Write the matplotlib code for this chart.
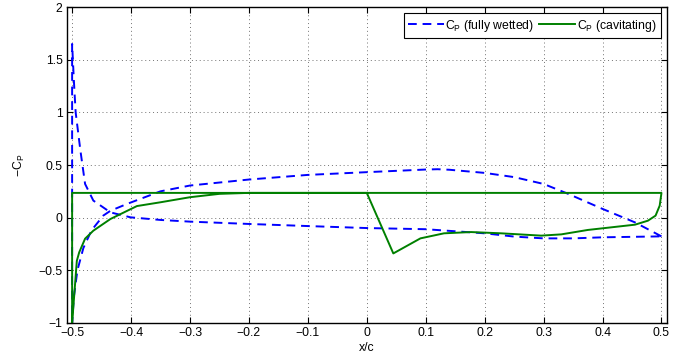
import matplotlib
matplotlib.use("Agg")
import matplotlib.pyplot as plt

plt.rcParams['font.family'] = ['Liberation Sans', 'DejaVu Sans']
plt.rcParams['font.size'] = 8.8

# Fully wetted -Cp: loop from trailing edge along pressure side to LE, then suction-peak side back to TE
wet_x = [0.5, 0.455, 0.4, 0.34, 0.3, 0.25, 0.2, 0.14, 0.12, 0.1, 0.0, -0.1, -0.2, -0.3, -0.35,
         -0.407, -0.435, -0.447, -0.467, -0.481, -0.491, -0.497, -0.5,
         -0.5, -0.497, -0.494, -0.486, -0.478, -0.464, -0.435, -0.401, -0.35, -0.3,
         -0.2, -0.1, 0.0, 0.1, 0.2, 0.25, 0.3, 0.35, 0.4, 0.5]
wet_y = [-0.178, -0.045, 0.083, 0.23, 0.32, 0.385, 0.425, 0.455, 0.46, 0.457, 0.432, 0.406, 0.362,
         0.305, 0.25, 0.13, 0.065, 0.02, -0.12, -0.29, -0.5, -0.75, -1.0,
         1.65, 1.3, 1.0, 0.64, 0.32, 0.162, 0.05, 0.003, -0.022, -0.038,
         -0.06, -0.08, -0.099, -0.11, -0.149, -0.18, -0.197, -0.197, -0.187, -0.178]

# Cavitating -Cp
cav_x = [-0.5, -0.5, 0.5, 0.497, 0.49, 0.477, 0.455, 0.375, 0.33, 0.296, 0.228, 0.177, 0.131,
         0.091, 0.045, 0.0, -0.2, -0.25, -0.3, -0.35, -0.39, -0.435, -0.464, -0.478, -0.488, -0.492, -0.5]
cav_y = [-1.0, 0.235, 0.235, 0.114, 0.019, -0.029, -0.067, -0.117, -0.159, -0.171, -0.149, -0.137,
         -0.149, -0.197, -0.34, 0.235, 0.235, 0.226, 0.194, 0.146, 0.11, -0.013, -0.124, -0.2, -0.33, -0.41, -1.0]

xticks = [-0.5, -0.4, -0.3, -0.2, -0.1, 0, 0.1, 0.2, 0.3, 0.4, 0.5]
xticklabels = ['\u22120.5', '\u22120.4', '\u22120.3', '\u22120.2', '\u22120.1', '0',
               '0.1', '0.2', '0.3', '0.4', '0.5']
yticks = [-1, -0.5, 0, 0.5, 1, 1.5, 2]
yticklabels = ['\u22121', '\u22120.5', '0', '0.5', '1', '1.5', '2']

fig = plt.figure(figsize=(6.96, 3.56), dpi=100)
ax = fig.add_axes([0.096, 0.093, 0.862, 0.887])

ax.plot(wet_x, wet_y, color=(0, 0, 1), lw=1.4, dashes=(4.5, 3),
        label='C$_\\mathregular{P}$ (fully wetted)')
ax.plot(cav_x, cav_y, color=(0, 0.5, 0), lw=1.4,
        label='C$_\\mathregular{P}$ (cavitating)')

ax.set_xlim(-0.509, 0.509)
ax.set_ylim(-1, 2)
ax.set_xticks(xticks)
ax.set_xticklabels(xticklabels)
ax.set_yticks(yticks)
ax.set_yticklabels(yticklabels)
ax.grid(True, linestyle=(0, (1, 3)), color='0.45', lw=0.7)
ax.tick_params(direction='in', top=True, right=True, length=4, width=0.8, pad=3)
for s in ax.spines.values():
    s.set_linewidth(1.0)

ax.set_xlabel('x/c', labelpad=2)
ax.set_ylabel('\u2212C$_\\mathregular{P}$', labelpad=8)

leg = ax.legend(loc='upper right', ncol=2, fancybox=False, edgecolor='black',
                framealpha=1, handlelength=2.9, columnspacing=0.4, borderpad=0.35,
                handletextpad=0.15, borderaxespad=0.5)
leg.get_frame().set_linewidth(0.8)

fig.savefig('out.png', dpi=100)
